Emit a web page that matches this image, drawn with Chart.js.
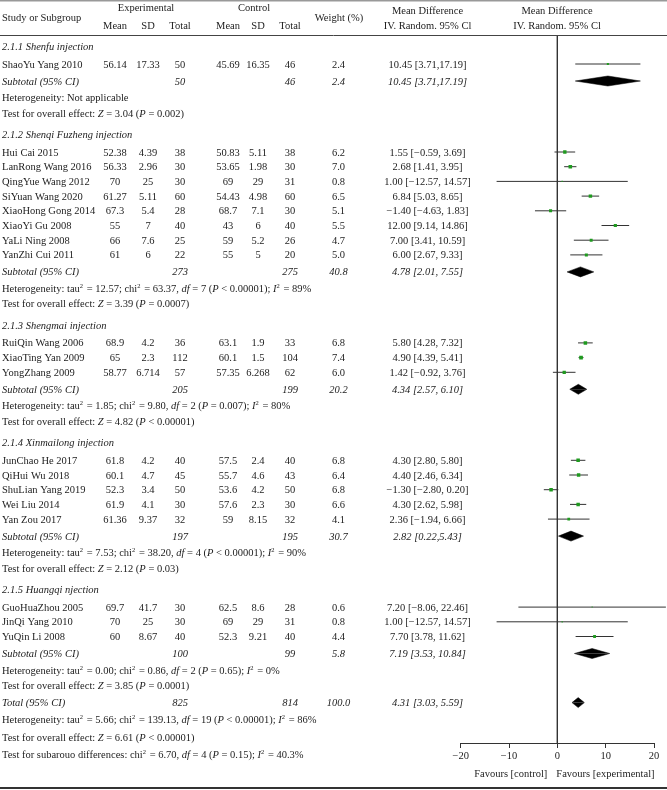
<!DOCTYPE html>
<html>
<head>
<meta charset="utf-8">
<script src="https://cdn.jsdelivr.net/npm/chart.js@4.4.1/dist/chart.umd.min.js"></script>
<style>
  html, body { margin: 0; padding: 0; background: #fff; }
  #forest { display: block; }
</style>
</head>
<body>
<canvas id="forest" width="667" height="790"></canvas>
<script>
// ---- data ----
const groupTitles = ['2.1.1 Shenfu injection', '2.1.2 Shenqi Fuzheng injection', '2.1.3 Shengmai injection',
                     '2.1.4 Xinmailong injection', '2.1.5 Huangqi njection'];

const studyNames = ['ShaoYu Yang 2010',
  'Hui Cai 2015', 'LanRong Wang 2016', 'QingYue Wang 2012', 'SiYuan Wang 2020', 'XiaoHong Gong 2014',
  'XiaoYi Gu 2008', 'YaLi Ning 2008', 'YanZhi Cui 2011',
  'RuiQin Wang 2006', 'XiaoTing Yan 2009', 'YongZhang 2009',
  'JunChao He 2017', 'QiHui Wu 2018', 'ShuLian Yang 2019', 'Wei Liu 2014', 'Yan Zou 2017',
  'GuoHuaZhou 2005', 'JinQi Yang 2010', 'YuQin Li 2008'];
const studyGroup = [0, 1, 1, 1, 1, 1, 1, 1, 1, 2, 2, 2, 3, 3, 3, 3, 3, 4, 4, 4];

const expMean  = [56.14, 52.38, 56.33, 70, 61.27, 67.3, 55, 66, 61, 68.9, 65, 58.77, 61.8, 60.1, 52.3, 61.9, 61.36, 69.7, 70, 60];
const expSD    = [17.33, 4.39, 2.96, 25, 5.11, 5.4, 7, 7.6, 6, 4.2, 2.3, 6.714, 4.2, 4.7, 3.4, 4.1, 9.37, 41.7, 25, 8.67];
const expTotal = [50, 38, 30, 30, 60, 28, 40, 25, 22, 36, 112, 57, 40, 45, 50, 30, 32, 30, 30, 40];
const ctlMean  = [45.69, 50.83, 53.65, 69, 54.43, 68.7, 43, 59, 55, 63.1, 60.1, 57.35, 57.5, 55.7, 53.6, 57.6, 59, 62.5, 69, 52.3];
const ctlSD    = [16.35, 5.11, 1.98, 29, 4.98, 7.1, 6, 5.2, 5, 1.9, 1.5, 6.268, 2.4, 4.6, 4.2, 2.3, 8.15, 8.6, 29, 9.21];
const ctlTotal = [46, 38, 30, 31, 60, 30, 40, 26, 20, 33, 104, 62, 40, 43, 50, 30, 32, 28, 31, 40];
const weights  = [2.4, 6.2, 7.0, 0.8, 6.5, 5.1, 5.5, 4.7, 5.0, 6.8, 7.4, 6.0, 6.8, 6.4, 6.8, 6.6, 4.1, 0.6, 0.8, 4.4];
const meanDiff = [10.45, 1.55, 2.68, 1.00, 6.84, -1.40, 12.00, 7.00, 6.00, 5.80, 4.90, 1.42, 4.30, 4.40, -1.30, 4.30, 2.36, 7.20, 1.00, 7.70];
const ciLow    = [3.71, -0.59, 1.41, -12.57, 5.03, -4.63, 9.14, 3.41, 2.67, 4.28, 4.39, -0.92, 2.80, 2.46, -2.80, 2.62, -1.94, -8.06, -12.57, 3.78];
const ciHigh   = [17.19, 3.69, 3.95, 14.57, 8.65, 1.83, 14.86, 10.59, 9.33, 7.32, 5.41, 3.76, 5.80, 6.34, 0.20, 5.98, 6.66, 22.46, 14.57, 11.62];

const subExpTotal = [50, 273, 205, 197, 100];
const subCtlTotal = [46, 275, 199, 195, 99];
const subWeight   = [2.4, 40.8, 20.2, 30.7, 5.8];
const subDiff     = [10.45, 4.78, 4.34, 2.82, 7.19];
const subLow      = [3.71, 2.01, 2.57, 0.22, 3.53];
const subHigh     = [17.19, 7.55, 6.10, 5.43, 10.84];

const hetTau2 = [null, '12.57', '1.85', '7.53', '0.00'];
const hetChi2 = [null, '63.37', '9.80', '38.20', '0.86'];
const hetDf   = [null, 7, 2, 4, 2];
const hetP    = [null, '< 0.00001', '= 0.007', '< 0.00001', '= 0.65'];
const hetI2   = [null, '89%', '80%', '90%', '0%'];
const overallZ = ['3.04', '3.39', '4.82', '2.12', '3.85'];
const overallP = ['= 0.002', '= 0.0007', '< 0.00001', '= 0.03', '= 0.0001'];

const totalExp = 825, totalCtl = 814, totalWeight = 100.0;
const totalDiff = 4.31, totalLow = 3.03, totalHigh = 5.59;
const totalHet = ['5.66', '139.13', 19, '< 0.00001', '86%'];
const totalZ = ['6.61', '< 0.00001'];
const subgroupTest = ['6.70', 4, '= 0.15', '40.3%'];

const xTicks = [-20, -10, 0, 10, 20];
const tightCI = [0];       // study rows printed as "a [b,c]"
const tightSubCI = [0, 3]; // subtotal rows printed as "a [b,c]"

// ---- layout ----
const FONT = '"Liberation Serif", "DejaVu Serif", serif';
const FS = 10.5;
const INK = '#1c1c1c';
const COL = { label: 2, expMean: 115, expSD: 148, expN: 180, ctlMean: 228, ctlSD: 258, ctlN: 290, weight: 338.5, md: 427.5, plot: 557 };
const GAP = { start: 46.5, first: 17.5, step: 14.7, sub: 17, het: 16.5, test: 15.5, next: 21.5, total: 17.1, footer: 17.3 };
const TOP = 35, AXIS = 743;

const fmt = v => (v < 0 ? '\u2212' + Math.abs(v).toFixed(2) : v.toFixed(2));
const ciText = (m, lo, hi, tight) => fmt(m) + ' [' + fmt(lo) + (tight ? ',' : ', ') + fmt(hi) + ']';
const hetLine = (t, c, d, p, i) =>
  'Heterogeneity: tau^2 = ' + t + '; chi^2 = ' + c + ', _df_ = ' + d + ' (_P_ ' + p + '); _I_^2 = ' + i;

// row positions (text lines)
const rows = [];
let yy = GAP.start;
groupTitles.forEach((title, g) => {
  if (g > 0) yy += GAP.next;
  rows.push({ kind: 'heading', y: yy, g });
  yy += GAP.first;
  let first = true;
  studyNames.forEach((n, i) => {
    if (studyGroup[i] !== g) return;
    if (!first) yy += GAP.step;
    first = false;
    rows.push({ kind: 'study', y: yy, i });
  });
  yy += GAP.sub;  rows.push({ kind: 'subtotal', y: yy, g });
  yy += GAP.het;  rows.push({ kind: 'het', y: yy, g });
  yy += GAP.test; rows.push({ kind: 'test', y: yy, g });
});
yy += GAP.total;  rows.push({ kind: 'total', y: yy });
yy += GAP.footer; rows.push({ kind: 'line', y: yy, text: hetLine(...totalHet) });
yy += GAP.footer; rows.push({ kind: 'line', y: yy, text: 'Test for overall effect: _Z_ = ' + totalZ[0] + ' (_P_ ' + totalZ[1] + ')' });
yy += GAP.footer; rows.push({ kind: 'line', y: yy,
  text: 'Test for subarouo differences: chi^2 = ' + subgroupTest[0] + ', _df_ = ' + subgroupTest[1] +
        ' (_P_ ' + subgroupTest[2] + '); _I_^2 = ' + subgroupTest[3] });

// ---- datasets ----
const datasets = [];
const studyRows = rows.filter(r => r.kind === 'study');

// study squares, sized by weight
datasets.push({
  type: 'scatter',
  order: 0,
  data: studyRows.map(r => ({ x: meanDiff[r.i], y: r.y })),
  pointStyle: 'rect',
  pointRadius: studyRows.map(r => 1.35 * Math.sqrt(weights[r.i]) / Math.SQRT2),
  backgroundColor: '#1f9a1f',
  borderWidth: 0
});

// confidence interval whiskers
studyRows.forEach(r => {
  datasets.push({
    type: 'line', order: 2, clip: false,
    data: [{ x: ciLow[r.i], y: r.y }, { x: ciHigh[r.i], y: r.y }],
    borderColor: '#333', borderWidth: 1, pointRadius: 0
  });
});

// pooled diamonds: upper and lower halves filled to the row line
function addDiamond(m, lo, hi, y) {
  [-5, 5].forEach(h => {
    datasets.push({
      type: 'line', order: 1,
      data: [{ x: lo, y }, { x: m, y: y + h }, { x: hi, y }],
      borderColor: '#000', borderWidth: 0.5, backgroundColor: '#000',
      fill: { value: y }, pointRadius: 0, tension: 0
    });
  });
}
rows.filter(r => r.kind === 'subtotal').forEach(r => addDiamond(subDiff[r.g], subLow[r.g], subHigh[r.g], r.y));
rows.filter(r => r.kind === 'total').forEach(r => addDiamond(totalDiff, totalLow, totalHigh, r.y));

// line of no effect
datasets.push({
  type: 'line', order: 3,
  data: [{ x: 0, y: TOP }, { x: 0, y: AXIS }],
  borderColor: '#333', borderWidth: 1, pointRadius: 0
});

// ---- table text ----
function drawRich(ctx, markup, x, base, italicBase) {
  const parts = markup.split(/(_[^_]+_|\^\d)/).filter(s => s);
  let cx = x;
  parts.forEach(p => {
    let txt = p, italic = italicBase, sup = false;
    if (p[0] === '_') { txt = p.slice(1, -1); italic = true; }
    else if (p[0] === '^') { txt = p.slice(1); sup = true; }
    const fs = sup ? 6.5 : FS;
    ctx.font = (italic ? 'italic ' : '') + fs + 'px ' + FONT;
    ctx.textAlign = 'left';
    ctx.fillText(txt, cx, sup ? base - 4 : base);
    cx += ctx.measureText(txt).width + (sup ? 1 : 0);
  });
}

function put(ctx, txt, x, base, align, italic) {
  ctx.font = (italic ? 'italic ' : '') + FS + 'px ' + FONT;
  ctx.textAlign = align;
  ctx.fillText(String(txt), x, base);
}

const tablePlugin = {
  id: 'forestTable',
  afterDraw(chart) {
    const ctx = chart.ctx;
    const ys = chart.scales.y;
    const xs = chart.scales.x;
    ctx.save();
    ctx.fillStyle = INK;
    ctx.textBaseline = 'alphabetic';

    // rules
    ctx.strokeStyle = '#999'; ctx.lineWidth = 1.5;
    ctx.beginPath(); ctx.moveTo(0, 0.75); ctx.lineTo(667, 0.75); ctx.stroke();
    ctx.strokeStyle = '#444'; ctx.lineWidth = 1;
    ctx.beginPath(); ctx.moveTo(0, TOP + 0.5); ctx.lineTo(667, TOP + 0.5); ctx.stroke();
    ctx.strokeStyle = '#333'; ctx.lineWidth = 2;
    ctx.beginPath(); ctx.moveTo(0, 788); ctx.lineTo(667, 788); ctx.stroke();

    // header
    put(ctx, 'Study or Subgroup', COL.label, 20.5, 'left');
    put(ctx, 'Experimental', 146, 11, 'center');
    put(ctx, 'Control', 254, 11, 'center');
    [['Mean', COL.expMean], ['SD', COL.expSD], ['Total', COL.expN],
     ['Mean', COL.ctlMean], ['SD', COL.ctlSD], ['Total', COL.ctlN]].forEach(h => put(ctx, h[0], h[1], 28.5, 'center'));
    put(ctx, 'Weight (%)', 339, 20.5, 'center');
    [COL.md, COL.plot].forEach(x => {
      put(ctx, 'Mean Difference', x, 13.5, 'center');
      put(ctx, 'IV. Random. 95% Cl', x, 28.5, 'center');
    });

    rows.forEach(r => {
      const b = ys.getPixelForValue(r.y) + 3.5;
      if (r.kind === 'heading') {
        put(ctx, groupTitles[r.g], COL.label, b, 'left', true);
      } else if (r.kind === 'study') {
        const i = r.i;
        put(ctx, studyNames[i], COL.label, b, 'left');
        put(ctx, expMean[i], COL.expMean, b, 'center');
        put(ctx, expSD[i], COL.expSD, b, 'center');
        put(ctx, expTotal[i], COL.expN, b, 'center');
        put(ctx, ctlMean[i], COL.ctlMean, b, 'center');
        put(ctx, ctlSD[i], COL.ctlSD, b, 'center');
        put(ctx, ctlTotal[i], COL.ctlN, b, 'center');
        put(ctx, weights[i].toFixed(1), COL.weight, b, 'center');
        put(ctx, ciText(meanDiff[i], ciLow[i], ciHigh[i], tightCI.includes(i)), COL.md, b, 'center');
      } else if (r.kind === 'subtotal') {
        const g = r.g;
        put(ctx, 'Subtotal (95% CI)', COL.label, b, 'left', true);
        put(ctx, subExpTotal[g], COL.expN, b, 'center', true);
        put(ctx, subCtlTotal[g], COL.ctlN, b, 'center', true);
        put(ctx, subWeight[g].toFixed(1), COL.weight, b, 'center', true);
        put(ctx, ciText(subDiff[g], subLow[g], subHigh[g], tightSubCI.includes(g)), COL.md, b, 'center', true);
      } else if (r.kind === 'het') {
        const g = r.g;
        const txt = hetTau2[g] === null ? 'Heterogeneity: Not applicable'
          : hetLine(hetTau2[g], hetChi2[g], hetDf[g], hetP[g], hetI2[g]);
        drawRich(ctx, txt, COL.label, b, false);
      } else if (r.kind === 'test') {
        drawRich(ctx, 'Test for overall effect: _Z_ = ' + overallZ[r.g] + ' (_P_ ' + overallP[r.g] + ')', COL.label, b, false);
      } else if (r.kind === 'total') {
        put(ctx, 'Total (95% CI)', COL.label, b, 'left', true);
        put(ctx, totalExp, COL.expN, b, 'center', true);
        put(ctx, totalCtl, COL.ctlN, b, 'center', true);
        put(ctx, totalWeight.toFixed(1), COL.weight, b, 'center', true);
        put(ctx, ciText(totalDiff, totalLow, totalHigh, false), COL.md, b, 'center', true);
      } else if (r.kind === 'line') {
        drawRich(ctx, r.text, COL.label, b, false);
      }
    });

    // favours labels under the axis
    const x0 = xs.getPixelForValue(0);
    put(ctx, 'Favours [control]', x0 - 10, 777, 'right');
    put(ctx, 'Favours [experimental]', x0 - 1, 777, 'left');
    ctx.restore();
  }
};

new Chart(document.getElementById('forest'), {
  type: 'scatter',
  data: { datasets },
  options: {
    responsive: false,
    animation: false,
    devicePixelRatio: 1,
    layout: { padding: { left: 460.7, right: 13, top: TOP, bottom: 0 } },
    plugins: { legend: { display: false }, tooltip: { enabled: false } },
    scales: {
      x: {
        type: 'linear',
        min: xTicks[0],
        max: xTicks[xTicks.length - 1],
        afterBuildTicks: axis => { axis.ticks = xTicks.map(v => ({ value: v })); },
        afterFit: axis => { axis.height = 790 - AXIS; },
        ticks: {
          color: INK,
          padding: 2,
          font: { family: FONT, size: FS },
          callback: v => String(v).replace('-', '\u2212')
        },
        grid: { display: true, drawOnChartArea: false, drawTicks: true, tickLength: 5, color: '#333' },
        border: { display: true, color: '#333', width: 1 }
      },
      y: { type: 'linear', min: TOP, max: AXIS, reverse: true, display: false }
    }
  },
  plugins: [tablePlugin]
});
</script>
</body>
</html>
